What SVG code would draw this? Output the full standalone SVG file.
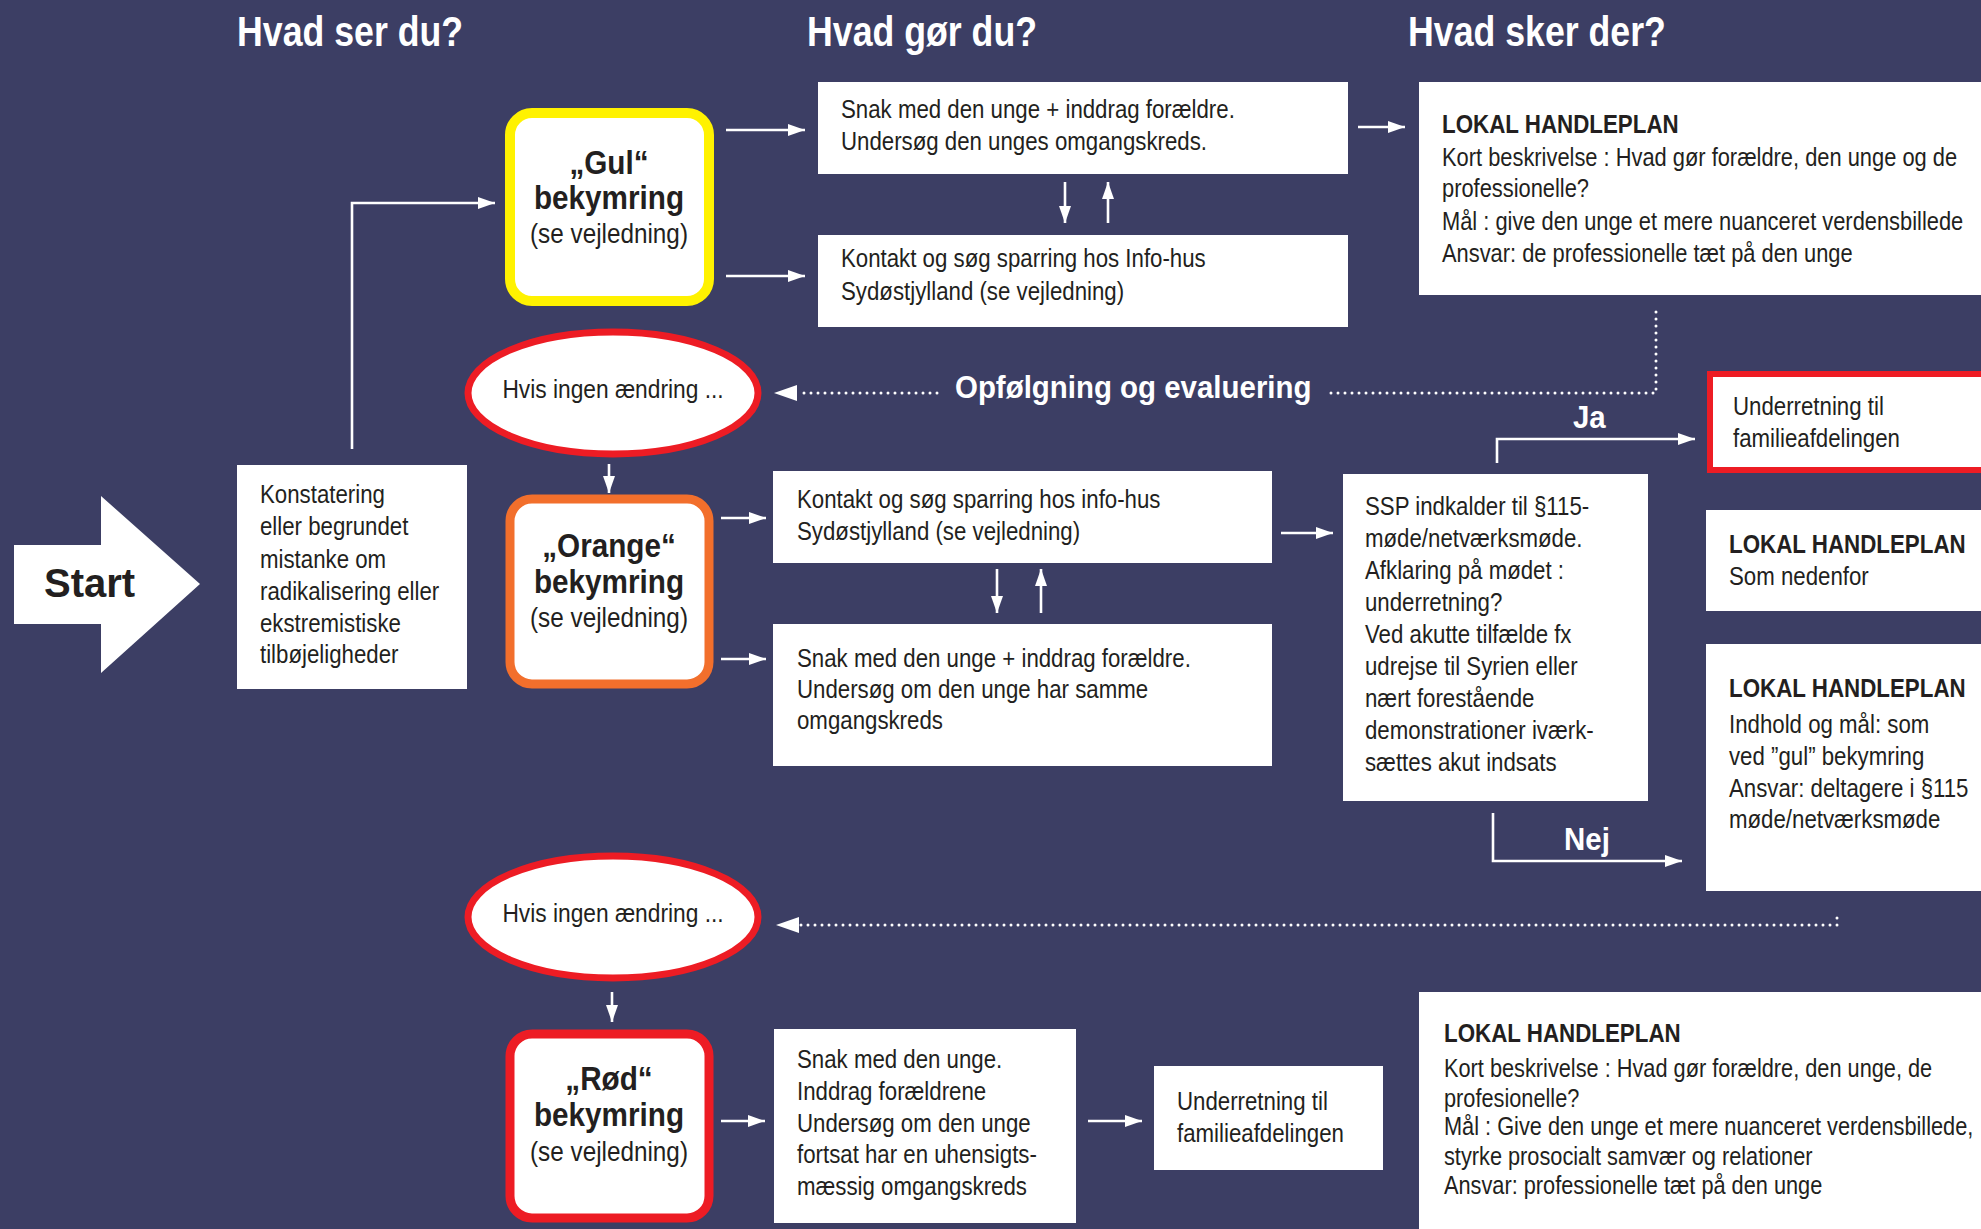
<svg xmlns="http://www.w3.org/2000/svg" width="1981" height="1229" viewBox="0 0 1981 1229">
<defs>
<style>
.bg{fill:#3c3e64}
.box{fill:#fff}
.t{font-family:"Liberation Sans",Arial,sans-serif;font-size:25px;fill:#231f20}
.b{font-weight:bold}
.c{text-anchor:middle}
.h{font-family:"Liberation Sans",Arial,sans-serif;font-weight:bold;font-size:42px;fill:#fff}
.lbl{font-family:"Liberation Sans",Arial,sans-serif;font-weight:bold;font-size:31px;fill:#fff}
.big{font-size:33px}
.par{font-size:27px}
.lh{font-size:26px;font-weight:bold}
.ln{fill:none;stroke:#fff;stroke-width:2.6}
.dot{fill:none;stroke:#fff;stroke-width:3;stroke-linecap:round;stroke-dasharray:0 7}
</style>
<marker id="ah" markerUnits="userSpaceOnUse" markerWidth="18" markerHeight="14" refX="17" refY="7" orient="auto">
<path d="M0,1 L17,7 L0,13 z" fill="#fff"/>
</marker>
</defs>
<rect class="bg" x="0" y="0" width="1981" height="1229"/>

<g id="titles">
<text class="h" transform="matrix(0.85 0 0 1 237 0)" y="46">Hvad ser du?</text>
<text class="h" transform="matrix(0.85 0 0 1 807 0)" y="46">Hvad gør du?</text>
<text class="h" transform="matrix(0.85 0 0 1 1408 0)" y="46">Hvad sker der?</text>
</g>

<g id="connectors">
<line class="ln" x1="726" y1="130" x2="805" y2="130" marker-end="url(#ah)"/>
<line class="ln" x1="726" y1="276" x2="805" y2="276" marker-end="url(#ah)"/>
<polyline class="ln" points="352,449 352,203 495,203" marker-end="url(#ah)"/>
<line class="ln" x1="1358" y1="127" x2="1405" y2="127" marker-end="url(#ah)"/>
<line class="ln" x1="1065" y1="182" x2="1065" y2="223" marker-end="url(#ah)"/>
<line class="ln" x1="1108" y1="223" x2="1108" y2="182" marker-end="url(#ah)"/>
<line class="ln" x1="609" y1="464" x2="609" y2="493" marker-end="url(#ah)"/>
<line class="ln" x1="721" y1="518" x2="766" y2="518" marker-end="url(#ah)"/>
<line class="ln" x1="721" y1="659" x2="766" y2="659" marker-end="url(#ah)"/>
<line class="ln" x1="997" y1="569" x2="997" y2="613" marker-end="url(#ah)"/>
<line class="ln" x1="1041" y1="613" x2="1041" y2="569" marker-end="url(#ah)"/>
<line class="ln" x1="1281" y1="533" x2="1333" y2="533" marker-end="url(#ah)"/>
<polyline class="ln" points="1497,463 1497,439 1695,439" marker-end="url(#ah)"/>
<polyline class="ln" points="1493,813 1493,861 1682,861" marker-end="url(#ah)"/>
<polyline class="dot" points="1656,312 1656,393 1327,393"/>
<line class="dot" x1="937" y1="393" x2="800" y2="393"/>
<path d="M774,393 L797,385 L797,401 z" fill="#fff"/>
<polyline class="dot" points="1837,918 1837,925 800,925"/>
<path d="M776,925 L799,917 L799,933 z" fill="#fff"/>
<line class="ln" x1="612" y1="992" x2="612" y2="1022" marker-end="url(#ah)"/>
<line class="ln" x1="721" y1="1121" x2="765" y2="1121" marker-end="url(#ah)"/>
<line class="ln" x1="1088" y1="1121" x2="1142" y2="1121" marker-end="url(#ah)"/>
<text class="lbl" transform="matrix(0.95 0 0 1 955 0)" y="398">Opfølgning og evaluering</text>
<text class="lbl" transform="matrix(0.95 0 0 1 1573 0)" y="428">Ja</text>
<text class="lbl" transform="matrix(0.95 0 0 1 1564 0)" y="850">Nej</text>
</g>

<g id="start">
<polygon class="box" points="14,545 101,545 101,496 200,584 101,673 101,624 14,624"/>
<text class="t b" x="44" y="597" style="font-size:40px">Start</text>
</g>

<g id="konstatering">
<rect class="box" x="237" y="465" width="230" height="224"/>
<g transform="matrix(0.89 0 0 1 260 0)">
<text class="t" y="503">Konstatering</text>
<text class="t" y="535">eller begrundet</text>
<text class="t" y="568">mistanke om</text>
<text class="t" y="600">radikalisering eller</text>
<text class="t" y="632">ekstremistiske</text>
<text class="t" y="663">tilbøjeligheder</text>
</g>
</g>

<g id="gul">
<rect x="510" y="113" width="199" height="188" rx="22" fill="#fff" stroke="#fff200" stroke-width="10"/>
<g transform="matrix(0.9 0 0 1 609 0)">
<text class="t b c big" y="174">„Gul“</text>
<text class="t b c big" y="209">bekymring</text>
<text class="t c par" y="243">(se vejledning)</text>
</g>
</g>

<g id="orange">
<rect x="510" y="499" width="199" height="185" rx="22" fill="#fff" stroke="#f26f2c" stroke-width="9"/>
<g transform="matrix(0.9 0 0 1 609 0)">
<text class="t b c big" y="557">„Orange“</text>
<text class="t b c big" y="593">bekymring</text>
<text class="t c par" y="627">(se vejledning)</text>
</g>
</g>

<g id="roed">
<rect x="510" y="1034" width="199" height="184" rx="22" fill="#fff" stroke="#ed1c24" stroke-width="9"/>
<g transform="matrix(0.9 0 0 1 609 0)">
<text class="t b c big" y="1090">„Rød“</text>
<text class="t b c big" y="1126">bekymring</text>
<text class="t c par" y="1161">(se vejledning)</text>
</g>
</g>

<g id="oval1">
<ellipse cx="613" cy="393" rx="145" ry="61" fill="#fff" stroke="#ed1c24" stroke-width="7"/>
<text class="t c" transform="matrix(0.91 0 0 1 613 0)" y="398">Hvis ingen ændring ...</text>
</g>

<g id="oval2">
<ellipse cx="613" cy="917" rx="145" ry="61" fill="#fff" stroke="#ed1c24" stroke-width="7"/>
<text class="t c" transform="matrix(0.91 0 0 1 613 0)" y="922">Hvis ingen ændring ...</text>
</g>

<g id="gul-snak">
<rect class="box" x="818" y="82" width="530" height="92"/>
<g transform="matrix(0.89 0 0 1 841 0)">
<text class="t" y="118">Snak med den unge + inddrag forældre.</text>
<text class="t" y="150">Undersøg den unges omgangskreds.</text>
</g>
</g>

<g id="gul-kontakt">
<rect class="box" x="818" y="235" width="530" height="92"/>
<g transform="matrix(0.89 0 0 1 841 0)">
<text class="t" y="267">Kontakt og søg sparring hos Info-hus</text>
<text class="t" y="300">Sydøstjylland (se vejledning)</text>
</g>
</g>

<g id="lokal1">
<rect class="box" x="1419" y="82" width="562" height="213"/>
<text class="t lh" transform="matrix(0.86 0 0 1 1442 0)" y="133">LOKAL HANDLEPLAN</text>
<g transform="matrix(0.875 0 0 1 1442 0)">
<text class="t" y="166">Kort beskrivelse : Hvad gør forældre, den unge og de</text>
<text class="t" y="197">professionelle?</text>
<text class="t" y="230">Mål : give den unge et mere nuanceret verdensbillede</text>
<text class="t" y="262">Ansvar: de professionelle tæt på den unge</text>
</g>
</g>

<g id="underretning1">
<rect x="1710" y="374" width="280" height="96" fill="#fff" stroke="#ed1c24" stroke-width="6"/>
<g transform="matrix(0.89 0 0 1 1733 0)">
<text class="t" y="415">Underretning til</text>
<text class="t" y="447">familieafdelingen</text>
</g>
</g>

<g id="orange-kontakt">
<rect class="box" x="773" y="471" width="499" height="92"/>
<g transform="matrix(0.89 0 0 1 797 0)">
<text class="t" y="508">Kontakt og søg sparring hos info-hus</text>
<text class="t" y="540">Sydøstjylland (se vejledning)</text>
</g>
</g>

<g id="orange-snak">
<rect class="box" x="773" y="624" width="499" height="142"/>
<g transform="matrix(0.89 0 0 1 797 0)">
<text class="t" y="667">Snak med den unge + inddrag forældre.</text>
<text class="t" y="698">Undersøg om den unge har samme</text>
<text class="t" y="729">omgangskreds</text>
</g>
</g>

<g id="ssp">
<rect class="box" x="1343" y="474" width="305" height="327"/>
<g transform="matrix(0.89 0 0 1 1365 0)">
<text class="t" y="515">SSP indkalder til §115-</text>
<text class="t" y="547">møde/netværksmøde.</text>
<text class="t" y="579">Afklaring på mødet :</text>
<text class="t" y="611">underretning?</text>
<text class="t" y="643">Ved akutte tilfælde fx</text>
<text class="t" y="675">udrejse til Syrien eller</text>
<text class="t" y="707">nært forestående</text>
<text class="t" y="739">demonstrationer iværk-</text>
<text class="t" y="771">sættes akut indsats</text>
</g>
</g>

<g id="lokal2">
<rect class="box" x="1706" y="510" width="275" height="101"/>
<text class="t lh" transform="matrix(0.86 0 0 1 1729 0)" y="553">LOKAL HANDLEPLAN</text>
<text class="t" transform="matrix(0.89 0 0 1 1729 0)" y="585">Som nedenfor</text>
</g>

<g id="lokal3">
<rect class="box" x="1706" y="644" width="275" height="247"/>
<text class="t lh" transform="matrix(0.86 0 0 1 1729 0)" y="697">LOKAL HANDLEPLAN</text>
<g transform="matrix(0.89 0 0 1 1729 0)">
<text class="t" y="733">Indhold og mål: som</text>
<text class="t" y="765">ved ”gul” bekymring</text>
<text class="t" y="797">Ansvar: deltagere i §115</text>
<text class="t" y="828">møde/netværksmøde</text>
</g>
</g>

<g id="roed-snak">
<rect class="box" x="774" y="1029" width="302" height="194"/>
<g transform="matrix(0.89 0 0 1 797 0)">
<text class="t" y="1068">Snak med den unge.</text>
<text class="t" y="1100">Inddrag forældrene</text>
<text class="t" y="1132">Undersøg om den unge</text>
<text class="t" y="1163">fortsat har en uhensigts-</text>
<text class="t" y="1195">mæssig omgangskreds</text>
</g>
</g>

<g id="underretning2">
<rect class="box" x="1154" y="1066" width="229" height="104"/>
<g transform="matrix(0.89 0 0 1 1177 0)">
<text class="t" y="1110">Underretning til</text>
<text class="t" y="1142">familieafdelingen</text>
</g>
</g>

<g id="lokal4">
<rect class="box" x="1419" y="992" width="562" height="237"/>
<text class="t lh" transform="matrix(0.86 0 0 1 1444 0)" y="1042">LOKAL HANDLEPLAN</text>
<g transform="matrix(0.87 0 0 1 1444 0)">
<text class="t" y="1077">Kort beskrivelse : Hvad gør forældre, den unge, de</text>
<text class="t" y="1107">profesionelle?</text>
<text class="t" y="1135">Mål : Give den unge et mere nuanceret verdensbillede,</text>
<text class="t" y="1165">styrke prosocialt samvær og relationer</text>
<text class="t" y="1194">Ansvar: professionelle tæt på den unge</text>
</g>
</g>
</svg>
